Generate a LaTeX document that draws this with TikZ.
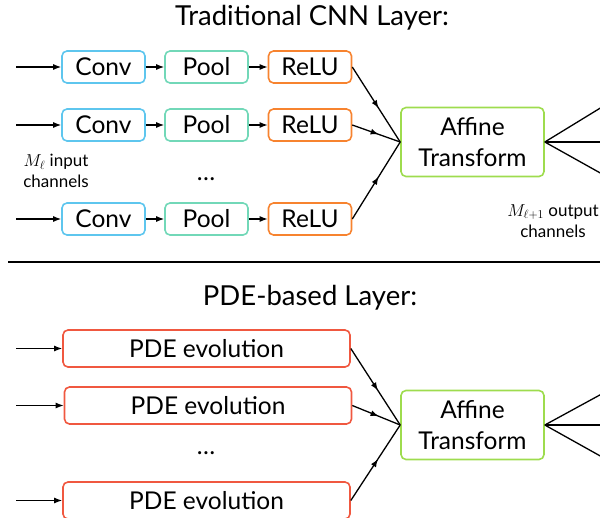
\documentclass[tikz,border=0pt]{standalone}
\usepackage{fontspec}
\setmainfont{Lato}
\usetikzlibrary{arrows.meta,decorations.markings}

\definecolor{convblue}{HTML}{5EC6EE}
\definecolor{poolteal}{HTML}{72D8B8}
\definecolor{reluorange}{HTML}{F7832F}
\definecolor{pdered}{HTML}{F05840}
\definecolor{affinegreen}{HTML}{9EDC4E}

\begin{document}
\begin{tikzpicture}[
    x=1pt, y=-1pt,
    flow/.style={-{Latex[length=8pt,width=6pt]}, line width=1.3pt},
    merge/.style={line width=1.3pt, postaction={decorate},
        decoration={markings, mark=at position 0.55 with {\arrow{Latex[length=8pt,width=6pt]}}}},
    block/.style={
        draw,
        rounded corners=5pt,
        line width=1.6pt,
        inner sep=0pt,
        align=center,
        font=\fontsize{24.5}{31}\selectfont
    },
    stage/.style={block, minimum width=83pt, minimum height=32pt},
    pde/.style={block, draw=pdered, minimum width=287pt, minimum height=37pt},
    affine/.style={block, draw=affinegreen, minimum width=143pt, minimum height=69pt},
    heading/.style={font=\fontsize{27.5}{33}\selectfont},
    note/.style={align=center, font=\fontsize{17}{21}\selectfont}
]
\useasboundingbox (0,0) rectangle (600,517);
\clip (0,0) rectangle (600,517);

% Titles
\node[heading] (cnntitle) at (312,18) {Traditional CNN Layer:};
\node[heading] (pdetitle) at (310,298) {PDE-based Layer:};

% CNN nodes
\node[stage, draw=convblue] (conv1) at (103.5,67) {Conv};
\node[stage, draw=poolteal] (pool1) at (206.5,67) {Pool};
\node[stage, draw=reluorange] (relu1) at (310,67) {ReLU};
\node[stage, draw=convblue] (conv2) at (103.5,125) {Conv};
\node[stage, draw=poolteal] (pool2) at (206.5,125) {Pool};
\node[stage, draw=reluorange] (relu2) at (310,125) {ReLU};
\node[stage, draw=convblue] (conv3) at (103.5,219) {Conv};
\node[stage, draw=poolteal] (pool3) at (206.5,219) {Pool};
\node[stage, draw=reluorange] (relu3) at (310,219) {ReLU};
\node[block, draw=none] (cnndots) at (206,179) {\dots};
\node[affine] (cnnaffine) at (472.5,142) {Affine\\Transform};

\node[note] (cnnin) at (56,171) {$M_\ell$ input\\channels};
\node[note] (cnnout) at (553,221) {$M_{\ell+1}$ output\\channels};

% CNN free ends
\coordinate (cin1) at (16,67);
\coordinate (cin2) at (16,125);
\coordinate (cin3) at (16,219);
\coordinate (cout1) at (620,96);
\coordinate (cout2) at (620,142);
\coordinate (cout3) at (620,184);

% CNN edges
\draw[flow] (cin1) -- (conv1);
\draw[flow] (cin2) -- (conv2);
\draw[flow] (cin3) -- (conv3);
\draw[flow] (conv1) -- (pool1);
\draw[flow] (conv2) -- (pool2);
\draw[flow] (conv3) -- (pool3);
\draw[flow] (pool1) -- (relu1);
\draw[flow] (pool2) -- (relu2);
\draw[flow] (pool3) -- (relu3);
\draw[merge] (relu1.east) -- (cnnaffine.west);
\draw[merge] (relu2.east) -- (cnnaffine.west);
\draw[merge] (relu3.east) -- (cnnaffine.west);
\draw[line width=1.3pt] (cnnaffine.east) -- (cout1);
\draw[line width=1.3pt] (cnnaffine.east) -- (cout2);
\draw[line width=1.3pt] (cnnaffine.east) -- (cout3);

% Separator
\coordinate (sepleft) at (8,262);
\coordinate (sepright) at (610,262);
\draw[line width=2pt] (sepleft) -- (sepright);

% PDE nodes
\node[pde] (pde1) at (206.5,348.5) {PDE evolution};
\node[pde] (pde2) at (208,405.5) {PDE evolution};
\node[pde] (pde3) at (206.5,500.5) {PDE evolution};
\node[block, draw=none] (pdedots) at (206,453) {\dots};
\node[affine] (pdeaffine) at (472.5,425) {Affine\\Transform};

% PDE free ends
\coordinate (pin1) at (16,348.5);
\coordinate (pin2) at (16,405.5);
\coordinate (pin3) at (16,500.5);
\coordinate (pout1) at (620,384);
\coordinate (pout2) at (620,425);
\coordinate (pout3) at (620,467);

% PDE edges
\draw[flow] (pin1) -- (pde1);
\draw[flow] (pin2) -- (pde2);
\draw[flow] (pin3) -- (pde3);
\draw[merge] (pde1.east) -- (pdeaffine.west);
\draw[merge] (pde2.east) -- (pdeaffine.west);
\draw[merge] (pde3.east) -- (pdeaffine.west);
\draw[line width=1.3pt] (pdeaffine.east) -- (pout1);
\draw[line width=1.3pt] (pdeaffine.east) -- (pout2);
\draw[line width=1.3pt] (pdeaffine.east) -- (pout3);

\end{tikzpicture}
\end{document}
